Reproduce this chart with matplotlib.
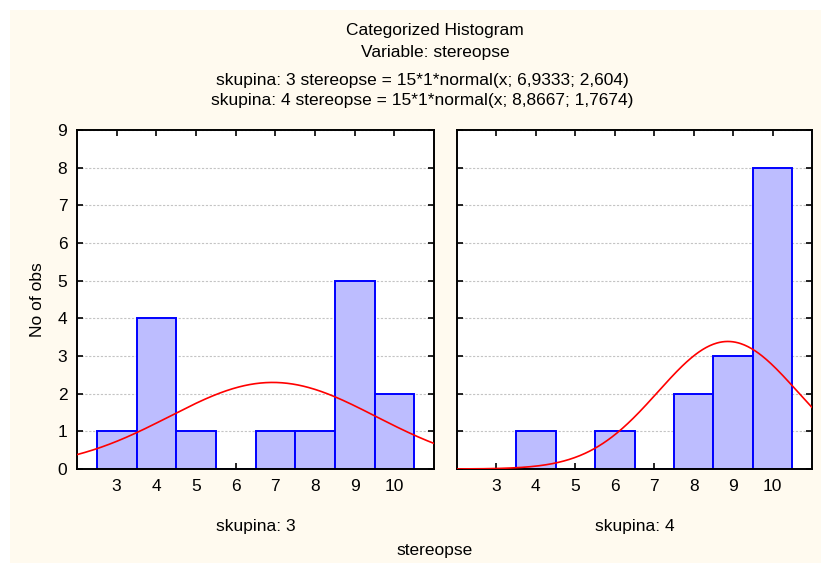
import numpy as np
import matplotlib.pyplot as plt
from matplotlib.patches import Rectangle

plt.rcParams['font.family'] = ['Liberation Sans', 'DejaVu Sans']

# data
values = [3, 4, 5, 6, 7, 8, 9, 10]
counts_g3 = [1, 4, 1, 0, 1, 1, 5, 2]
counts_g4 = [0, 1, 0, 1, 0, 2, 3, 8]
groups = ['skupina: 3', 'skupina: 4']
n_obs = [15, 15]
means = [6.9333, 8.8667]
sds = [2.604, 1.7674]
fit_labels = ['skupina: 3 stereopse = 15*1*normal(x; 6,9333; 2,604)',
              'skupina: 4 stereopse = 15*1*normal(x; 8,8667; 1,7674)']

fs = 12.5
cream = '#FFFAEF'
fig = plt.figure(figsize=(8.21, 5.63), dpi=100, facecolor='white')
fig.patches.append(Rectangle((10/821, 0), 1, 553/563, transform=fig.transFigure,
                             facecolor=cream, edgecolor='none', zorder=-10))

ax1 = fig.add_axes([77/821, 94/563, 357/821, 339/563])
ax2 = fig.add_axes([457/821, 94/563, 355/821, 339/563], sharey=ax1)

xs = np.linspace(2, 11, 400)
for ax, counts, m, s, n, g in zip([ax1, ax2], [counts_g3, counts_g4], means, sds, n_obs, groups):
    ax.set_facecolor('white')
    ax.bar(values, counts, width=1.0, color='#BDBDFF', edgecolor='#0000FF',
           linewidth=1.4, zorder=2)
    curve = n * 1 * np.exp(-0.5 * ((xs - m) / s) ** 2) / (s * np.sqrt(2 * np.pi))
    ax.plot(xs, curve, color='#FF0000', linewidth=1.2, zorder=3)
    ax.set_xlim(2, 11)
    ax.set_ylim(0, 9)
    ax.set_xticks(values)
    ax.set_yticks(range(10))
    ax.yaxis.grid(True, linestyle=(0, (2, 1.5)), color='#C4C4C4', linewidth=0.8, zorder=0)
    ax.set_axisbelow(True)
    for sp in ax.spines.values():
        sp.set_linewidth(1.4)
    ax.tick_params(direction='in', top=True, right=True, length=4, width=1.2,
                   labelsize=fs, pad=7)
    # group label under each panel
    box = ax.get_position()
    fig.text((box.x0 + box.x1) / 2, 1 - 527/563, g, ha='center', va='center', fontsize=fs)

ax2.tick_params(labelleft=False)
ax1.set_ylabel('No of obs', fontsize=fs, labelpad=9)

fig.text(435/821, 1 - 31/563, 'Categorized Histogram', ha='center', va='center', fontsize=fs)
fig.text(435/821, 1 - 53/563, 'Variable: stereopse', ha='center', va='center', fontsize=fs)
fig.text(422/821, 1 - 81/563, fit_labels[0], ha='center', va='center', fontsize=fs)
fig.text(422/821, 1 - 101/563, fit_labels[1], ha='center', va='center', fontsize=fs)
fig.text(435/821, 1 - 551/563, 'stereopse', ha='center', va='center', fontsize=fs)

fig.savefig('out.png', dpi=100, facecolor=fig.get_facecolor())
